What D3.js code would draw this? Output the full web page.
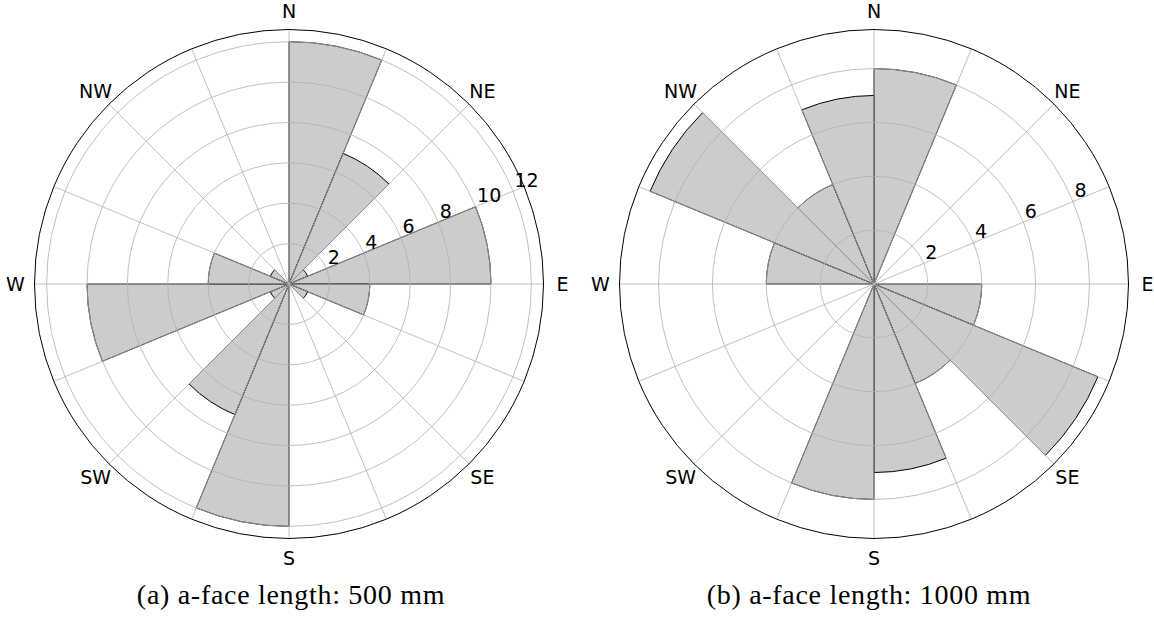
<!DOCTYPE html>
<html>
<head>
<meta charset="utf-8">
<script src="https://cdn.jsdelivr.net/npm/d3@7"></script>
<style>
    body { margin: 0; background: #fff; }
    svg { display: block; }
</style>
</head>
<body>
<div id="chart"></div>
<script>
// 16 bins of 22.5 deg, clockwise from N
const compassLabels = ['N', 'NE', 'E', 'SE', 'S', 'SW', 'W', 'NW'];
const counts500 = [12, 7, 1, 10, 4, 1, 0, 0, 12, 7, 1, 10, 4, 1, 0, 0];
const counts1000 = [8, 0, 0, 0, 4, 9, 4, 7, 8, 0, 0, 0, 4, 9, 4, 7];
const rTicks500 = [2, 4, 6, 8, 10, 12];
const rTicks1000 = [2, 4, 6, 8];
const captions = ['(a) a-face length: 500 mm', '(b) a-face length: 1000 mm'];

const width = 1154;
const height = 625;
const radius = 254.5;

const svg = d3.select('#chart').append('svg')
    .attr('width', width)
    .attr('height', height);

function renderRose (cx, cy, counts, rTicks, caption, captionX) {
    const nBins = counts.length;
    const step = 2 * Math.PI / nBins;
    // matplotlib pads the radial limit by 5%
    const rMax = d3.max(counts) * 1.05;
    const r = d3.scaleLinear().domain([0, rMax]).range([0, radius]);

    const g = svg.append('g').attr('transform', `translate(${cx},${cy})`);

    // bars
    const arc = d3.arc()
        .innerRadius(0)
        .outerRadius(d => r(d.value))
        .startAngle(d => d.i * step)
        .endAngle(d => (d.i + 1) * step);

    g.selectAll('path.bar')
        .data(counts.map((value, i) => ({ value, i })).filter(d => d.value > 0))
        .enter()
        .append('path')
        .attr('class', 'bar')
        .attr('d', arc)
        .attr('fill', '#cccccc')
        .attr('stroke', '#000')
        .attr('stroke-width', 1);

    // grid on top of the bars
    g.selectAll('circle.ring')
        .data(rTicks)
        .enter()
        .append('circle')
        .attr('class', 'ring')
        .attr('r', d => r(d))
        .attr('fill', 'none')
        .attr('stroke', '#b0b0b0')
        .attr('stroke-width', 0.8);

    g.selectAll('line.spoke')
        .data(d3.range(nBins))
        .enter()
        .append('line')
        .attr('class', 'spoke')
        .attr('x1', 0)
        .attr('y1', 0)
        .attr('x2', i => radius * Math.sin(i * step))
        .attr('y2', i => -radius * Math.cos(i * step))
        .attr('stroke', '#b0b0b0')
        .attr('stroke-width', 0.8);

    // outer spine
    g.append('circle')
        .attr('r', radius)
        .attr('fill', 'none')
        .attr('stroke', '#000')
        .attr('stroke-width', 1);

    // compass labels
    const labelR = radius + 19;
    g.selectAll('text.dir')
        .data(compassLabels)
        .enter()
        .append('text')
        .attr('class', 'dir')
        .attr('x', (d, i) => labelR * Math.sin(i * Math.PI / 4))
        .attr('y', (d, i) => -labelR * Math.cos(i * Math.PI / 4))
        .attr('text-anchor', 'middle')
        .attr('dominant-baseline', 'central')
        .attr('font-family', 'DejaVu Sans')
        .attr('font-size', 19)
        .text(d => d);

    // radial tick labels along 67.5 deg
    const labelAngle = 3 * Math.PI / 8;
    g.selectAll('text.rtick')
        .data(rTicks)
        .enter()
        .append('text')
        .attr('class', 'rtick')
        .attr('x', d => r(d) * Math.sin(labelAngle) + 1.5)
        .attr('y', d => -r(d) * Math.cos(labelAngle) - 4.5)
        .attr('font-family', 'DejaVu Sans')
        .attr('font-size', 19)
        .text(d => d);

    svg.append('text')
        .attr('x', captionX)
        .attr('y', 604)
        .attr('text-anchor', 'middle')
        .attr('font-family', 'Liberation Serif')
        .attr('font-size', 28)
        .attr('letter-spacing', 0.7)
        .text(caption);
}

renderRose(289, 284, counts500, rTicks500, captions[0], 291);
renderRose(874, 284, counts1000, rTicks1000, captions[1], 869);
</script>
</body>
</html>
